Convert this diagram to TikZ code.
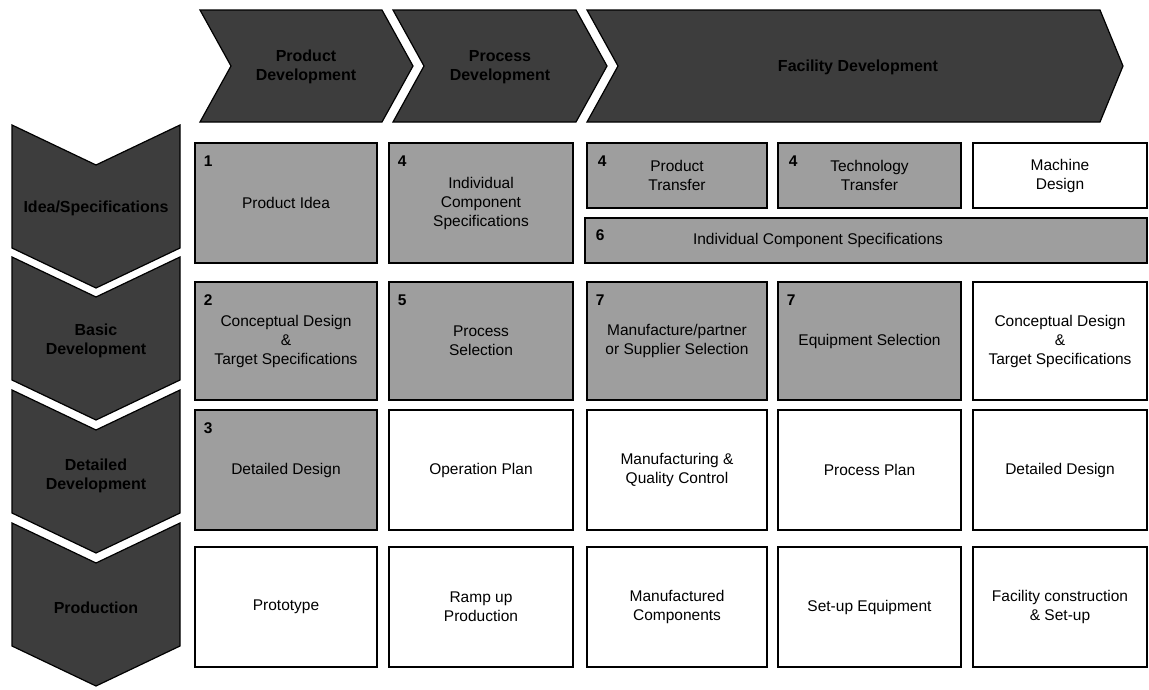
\documentclass[tikz,border=0pt]{standalone}
\usepackage{fontspec}
\setmainfont{Liberation Sans}
\definecolor{cellgray}{gray}{0.62}
\definecolor{chevgray}{gray}{0.24}
\tikzset{
  cell/.style={draw=black, line width=1.4pt, align=center, inner sep=0pt,
    font=\fontsize{15.5}{19}\selectfont, text=black},
  shaded/.style={cell, fill=cellgray},
  plain/.style={cell, fill=white},
  num/.style={font=\fontsize{15.5}{19}\selectfont\bfseries, anchor=center, inner sep=0pt},
  chev/.style={fill=chevgray, draw=black, line width=1.2pt, line join=miter},
  chevtext/.style={align=center, font=\fontsize{16}{19}\selectfont\bfseries, text=black, inner sep=0pt}
}
\begin{document}
\begin{tikzpicture}[x=1pt, y=-1pt]
\useasboundingbox (0,0) rectangle (1149,689);

% ---- phase chevrons along the top ----
\draw[chev] (200,10) -- (382,10) -- (413,66) -- (382,122) -- (200,122) -- (231,66) -- cycle;
\draw[chev] (393,10) -- (576,10) -- (607,66) -- (576,122) -- (393,122) -- (424,66) -- cycle;
\draw[chev] (587,10) -- (1100,10) -- (1123,66) -- (1100,122) -- (587,122) -- (618,66) -- cycle;
\node[chevtext] (ph1) at (306,67) {Product\\Development};
\node[chevtext] (ph2) at (500,67) {Process\\Development};
\node[chevtext] (ph3) at (858,67) {Facility Development};

% ---- stage chevrons down the left side ----
\foreach \t in {125,257,390,523}{
  \draw[chev] (12,\t) -- (96,\t+40) -- (180,\t) -- (180,\t+123) -- (96,\t+163) -- (12,\t+123) -- cycle;
}
\node[chevtext] (st1) at (96,208) {Idea/Specifications};
\node[chevtext] (st2) at (96,341) {Basic\\Development};
\node[chevtext] (st3) at (96,476) {Detailed\\Development};
\node[chevtext] (st4) at (96,608) {Production};

% ---- row 1 ----
\node[shaded, minimum width=182, minimum height=120] (b11) at (286,203) {Product Idea};
\node[shaded, minimum width=184, minimum height=120] (b12) at (481,203) {Individual\\Component\\Specifications};
\node[shaded, minimum width=180, minimum height=65] (b13) at (677,175.5) {Product\\Transfer};
\node[shaded, minimum width=183, minimum height=65] (b14) at (869.5,175.5) {Technology\\Transfer};
\node[plain, minimum width=174, minimum height=65] (b15) at (1060,175.5) {Machine\\Design};
\node[shaded, minimum width=562, minimum height=45] (band) at (866,240.5) {};
\node[cell, draw=none] (bandtxt) at (818,240.5) {Individual Component Specifications};

% ---- row 2 ----
\node[shaded, minimum width=182, minimum height=118] (b21) at (286,341) {Conceptual Design\\\&\\Target Specifications};
\node[shaded, minimum width=184, minimum height=118] (b22) at (481,341) {Process\\Selection};
\node[shaded, minimum width=180, minimum height=118] (b23) at (677,341) {Manufacture/partner\\or Supplier Selection};
\node[shaded, minimum width=183, minimum height=118] (b24) at (869.5,341) {Equipment Selection};
\node[plain, minimum width=174, minimum height=118] (b25) at (1060,341) {Conceptual Design\\\&\\Target Specifications};

% ---- row 3 ----
\node[shaded, minimum width=182, minimum height=120] (b31) at (286,470) {Detailed Design};
\node[plain, minimum width=184, minimum height=120] (b32) at (481,470) {Operation Plan};
\node[plain, minimum width=180, minimum height=120] (b33) at (677,470) {Manufacturing \&\\Quality Control};
\node[plain, minimum width=183, minimum height=120] (b34) at (869.5,470) {Process Plan};
\node[plain, minimum width=174, minimum height=120] (b35) at (1060,470) {Detailed Design};

% ---- row 4 ----
\node[plain, minimum width=182, minimum height=120] (b41) at (286,607) {Prototype};
\node[plain, minimum width=184, minimum height=120] (b42) at (481,607) {Ramp up\\Production};
\node[plain, minimum width=180, minimum height=120] (b43) at (677,607) {Manufactured\\Components};
\node[plain, minimum width=183, minimum height=120] (b44) at (869.5,607) {Set-up Equipment};
\node[plain, minimum width=174, minimum height=120] (b45) at (1060,607) {Facility construction\\\& Set-up};

% ---- sequence numbers in the corners ----
\node[num] (n11) at ([shift={(14,19)}]b11.north west) {1};
\node[num] (n12) at ([shift={(14,19)}]b12.north west) {4};
\node[num] (n13) at ([shift={(16,19)}]b13.north west) {4};
\node[num] (n14) at ([shift={(16,19)}]b14.north west) {4};
\node[num] (n6)  at ([shift={(16,18)}]band.north west) {6};
\node[num] (n21) at ([shift={(14,19)}]b21.north west) {2};
\node[num] (n22) at ([shift={(14,19)}]b22.north west) {5};
\node[num] (n23) at ([shift={(14,19)}]b23.north west) {7};
\node[num] (n24) at ([shift={(14,19)}]b24.north west) {7};
\node[num] (n31) at ([shift={(14,19)}]b31.north west) {3};
\end{tikzpicture}
\end{document}
